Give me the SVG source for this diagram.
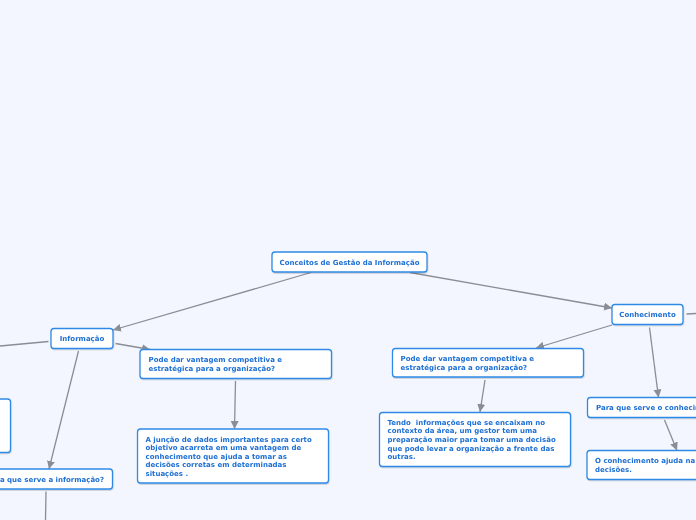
<svg xmlns="http://www.w3.org/2000/svg" width="696" height="520" viewBox="0 0 696 520">
<style>
.bg{fill:#f3f6fe}
.box{fill:#ffffff;stroke:#2f8ae5;stroke-width:1.3}
.t{font-family:"DejaVu Sans",Verdana,sans-serif;font-weight:bold;font-size:7px;fill:#1d6fd3}
.c{text-anchor:middle}
.ln{stroke:#8a8d94;stroke-width:1.3;fill:none}
.a{marker-end:url(#ah)}
</style>
<defs>
<marker id="ah" markerUnits="userSpaceOnUse" markerWidth="10" markerHeight="10" refX="8" refY="4" orient="auto">
<path d="M0,0 L8,4 L0,8 Z" fill="#8a8d94"/>
</marker>
<filter id="sh" x="-10%" y="-20%" width="120%" height="150%">
<feDropShadow dx="0.5" dy="1" stdDeviation="0.7" flood-color="#000" flood-opacity="0.18"/>
</filter>
</defs>
<rect class="bg" x="0" y="0" width="696" height="520"/>
<g id="connectors">
<line class="ln a" x1="311" y1="272.5" x2="113" y2="330"/>
<line class="ln a" x1="410" y1="272.5" x2="612" y2="308"/>
<line class="ln" x1="48.5" y1="341.5" x2="0" y2="346"/>
<line class="ln a" x1="115.5" y1="343.5" x2="150" y2="349.5"/>
<line class="ln a" x1="78.5" y1="351" x2="49" y2="469"/>
<line class="ln" x1="46" y1="491.5" x2="45.5" y2="520"/>
<line class="ln a" x1="235.5" y1="381" x2="234.5" y2="429"/>
<line class="ln" x1="686.5" y1="314" x2="696" y2="313.5"/>
<line class="ln a" x1="612" y1="325" x2="536" y2="348"/>
<line class="ln a" x1="485" y1="380" x2="480" y2="412"/>
<line class="ln a" x1="649.5" y1="327.5" x2="658.5" y2="397.5"/>
<line class="ln a" x1="664.5" y1="420" x2="677" y2="450.5"/>
</g>
<g id="root" filter="url(#sh)">
<rect class="box" x="272" y="252" width="155" height="20" rx="3"/>
<text class="t c" x="349.5" y="264.5">Conceitos de Gestão da Informação</text>
</g>
<g id="informacao" filter="url(#sh)">
<rect class="box" x="51" y="328.5" width="62" height="20" rx="3"/>
<text class="t c" x="82" y="341">Informação</text>
</g>
<g id="conhecimento" filter="url(#sh)">
<rect class="box" x="612" y="304.5" width="71" height="20" rx="3"/>
<text class="t c" x="647.5" y="317">Conhecimento</text>
</g>
<g id="vantagem1" filter="url(#sh)">
<rect class="box" x="140" y="349.5" width="191.5" height="29" rx="3"/>
<text class="t" x="148.5" y="362.2">Pode dar vantagem competitiva e</text>
<text class="t" x="148.5" y="371.2">estratégica para a organização?</text>
</g>
<g id="juncao" filter="url(#sh)">
<rect class="box" x="137.5" y="429" width="191" height="54" rx="3"/>
<text class="t" x="145.5" y="441.8">A junção de dados importantes para certo</text>
<text class="t" x="145.5" y="450.3">objetivo acarreta em uma vantagem de</text>
<text class="t" x="145.5" y="458.8">conhecimento que ajuda a tomar as</text>
<text class="t" x="145.5" y="467.3">decisões corretas em determinadas</text>
<text class="t" x="145.5" y="475.8">situações .</text>
</g>
<g id="left-box" filter="url(#sh)">
<rect class="box" x="-20" y="399" width="30.5" height="53.5" rx="3"/>
</g>
<g id="para-informacao" filter="url(#sh)">
<rect class="box" x="-40" y="469" width="152.5" height="20" rx="3"/>
<text class="t" x="104" y="481.8" text-anchor="end">Para que serve a informação?</text>
</g>
<g id="vantagem2" filter="url(#sh)">
<rect class="box" x="392.5" y="348.5" width="191" height="28.5" rx="3"/>
<text class="t" x="400.5" y="361.2">Pode dar vantagem competitiva e</text>
<text class="t" x="400.5" y="370.2">estratégica para a organização?</text>
</g>
<g id="tendo" filter="url(#sh)">
<rect class="box" x="379.5" y="412.5" width="191" height="54" rx="3"/>
<text class="t" x="387.5" y="424.8" xml:space="preserve">Tendo  informações que se encaixam no</text>
<text class="t" x="387.5" y="433.4">contexto da área, um gestor tem uma</text>
<text class="t" x="387.5" y="442.1">preparação maior para tomar uma decisão</text>
<text class="t" x="387.5" y="450.8">que pode levar a organização a frente das</text>
<text class="t" x="387.5" y="459.2">outras.</text>
</g>
<g id="para-conhecimento" filter="url(#sh)">
<rect class="box" x="587.5" y="397.5" width="150" height="20" rx="3"/>
<text class="t" x="596" y="410">Para que serve o conhecimento?</text>
</g>
<g id="ajuda" filter="url(#sh)">
<rect class="box" x="587" y="450.5" width="150" height="29" rx="3"/>
<text class="t" x="595" y="462.8">O conhecimento ajuda na</text>
<text class="t" x="595" y="471.8">decisões.</text>
</g>
</svg>
